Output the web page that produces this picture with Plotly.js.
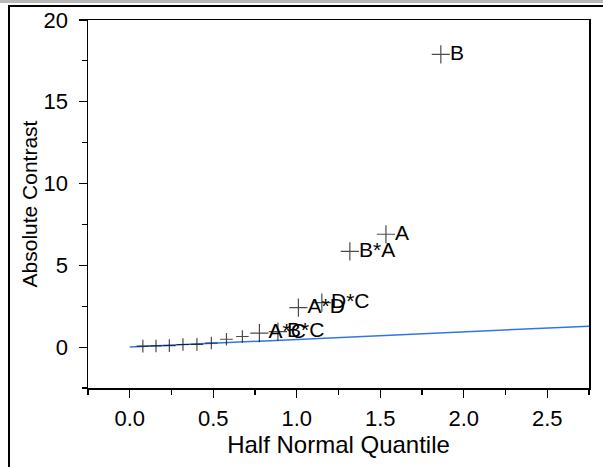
<!DOCTYPE html>
<html>
<head>
<meta charset="utf-8">
<script src="https://cdn.plot.ly/plotly-3.0.1.min.js"></script>
<style>
  html, body { margin: 0; padding: 0; background: #fff; }
  #wrap { position: relative; width: 603px; height: 467px; overflow: hidden; }
  #chart { position: absolute; left: 0; top: 0; width: 603px; height: 467px; }
  #topband { position: absolute; left: 0; top: 0; width: 603px; height: 3px; background: #b8b8b8; pointer-events: none; }
  #frame { position: absolute; left: 8px; top: 5px; width: 620px; height: 480px; border-left: 2px solid #000; border-top: 2px solid #000; pointer-events: none; box-sizing: border-box; }
</style>
</head>
<body>
<div id="wrap">
  <div id="chart"></div>
  <div id="topband"></div>
  <div id="frame"></div>
</div>
<script>
// Half-normal quantiles (x) and absolute contrasts (y)
const quantiles = [0.0785, 0.1573, 0.2372, 0.3186, 0.4023, 0.4888, 0.5791, 0.6745,
                   0.7764, 0.8871, 1.0100, 1.1503, 1.3180, 1.5341, 1.8627];
const contrasts = [0.06, 0.07, 0.09, 0.16, 0.17, 0.25, 0.48, 0.65,
                   0.85, 0.95, 2.42, 2.72, 5.85, 6.9, 17.9];
const termLabels = ["", "", "", "", "", "", "", "",
                    "A*C", "B*C", "A*D", "D*C", "B*A", "A", "B"];
// Reference line through origin
const lineX = [0, 2.75];
const lineY = [0, 1.28];

const xTickVals = [0, 0.5, 1, 1.5, 2, 2.5];
const yTickVals = [0, 5, 10, 15, 20];

const font = "Liberation Sans, Arial, sans-serif";
const markerSizes = termLabels.map(t => (t ? 13 : 9));

const traces = [
  {
    x: lineX, y: lineY, mode: "lines", type: "scatter",
    line: { color: "rgb(52,116,234)", width: 1.5 },
    hoverinfo: "skip", showlegend: false
  },
  {
    x: quantiles, y: contrasts, mode: "markers+text", type: "scatter",
    text: termLabels, textposition: "middle right",
    textfont: { family: font, size: 21, color: "#000" },
    marker: { symbol: "cross-thin", size: markerSizes, color: "#000", line: { color: "#000", width: 1.2 } },
    showlegend: false
  }
];

const layout = {
  width: 603, height: 467,
  margin: { l: 88, r: 14, t: 20, b: 79 },
  paper_bgcolor: "#fff", plot_bgcolor: "#fff",
  font: { family: font, size: 22, color: "#000" },
  showlegend: false,
  xaxis: {
    range: [-0.25, 2.75],
    tickvals: xTickVals, tickformat: ".1f",
    ticks: "outside", ticklen: 8, tickwidth: 1.2, tickcolor: "#000",
    minor: { dtick: 0.25, tick0: 0, ticks: "outside", ticklen: 5, tickcolor: "#000", showgrid: false },
    showline: true, linecolor: "#000", linewidth: 1.5, mirror: true,
    showgrid: false, zeroline: false,
    tickfont: { family: font, size: 22, color: "#000" },
    ticklabelstandoff: 2,
    title: { text: "Half Normal Quantile", font: { family: font, size: 24, color: "#000" }, standoff: 3 }
  },
  yaxis: {
    range: [-2.5, 20],
    tickvals: yTickVals,
    ticks: "outside", ticklen: 8, tickwidth: 1.2, tickcolor: "#000",
    minor: { dtick: 2.5, tick0: 0, ticks: "outside", ticklen: 5, tickcolor: "#000", showgrid: false },
    showline: true, linecolor: "#000", linewidth: 1.5, mirror: true,
    showgrid: false, zeroline: false,
    tickfont: { family: font, size: 22, color: "#000" },
    ticklabelstandoff: 6,
    title: { text: "Absolute Contrast", font: { family: font, size: 21, color: "#000" }, standoff: 0 }
  }
};

Plotly.newPlot("chart", traces, layout, { displayModeBar: false, staticPlot: true });
</script>
</body>
</html>
